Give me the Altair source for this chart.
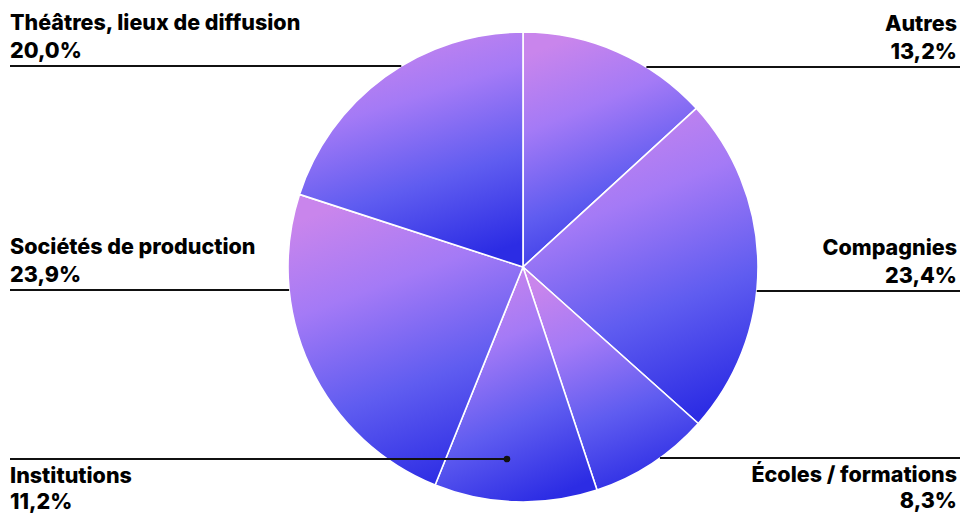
import altair as alt
import pandas as pd
import numpy as np

# ---- data ----
categories = ["Autres", "Compagnies", "Écoles / formations", "Institutions",
              "Sociétés de production", "Théâtres, lieux de diffusion"]
values = [13.2, 23.4, 8.3, 11.2, 23.9, 20.0]
pct_labels = ["13,2%", "23,4%", "8,3%", "11,2%", "23,9%", "20,0%"]

# ---- layout (annotation placement) ----
W, H = 963, 513
CX, CY, R = 523, 267, 235
label_side = ["right", "right", "right", "left", "left", "left"]
label_line_y = [67, 291, 458, 459, 290, 66]
label_below = [False, False, True, True, False, False]
label_dot = [False, False, False, True, False, False]
DOT_X = 507
LEFT_X, RIGHT_X = 10, 957

pie_df = pd.DataFrame({"cat": categories, "val": values, "idx": range(len(values))})

rows = []
for c, p, side, ly, below, dot in zip(categories, pct_labels, label_side,
                                      label_line_y, label_below, label_dot):
    edge = np.sqrt(max(R**2 - (ly - CY) ** 2, 0))
    if side == "left":
        x0 = LEFT_X
        x1 = DOT_X if dot else CX - edge
        tx = LEFT_X
    else:
        x0 = CX + edge
        x1 = 960
        tx = RIGHT_X
    ny = ly + 24 if below else ly - 36
    py = ly + 50 if below else ly - 8
    rows.append(dict(cat=c, pct=p, side=side, x0=x0, x1=x1, ly=ly, tx=tx,
                     ny=ny, py=py, dot=dot, dx=x1))
ann = pd.DataFrame(rows)

grad = alt.LinearGradient(
    gradient="linear",
    stops=[alt.GradientStop(color="#c985ec", offset=0),
           alt.GradientStop(color="#a47af6", offset=0.3),
           alt.GradientStop(color="#5f5cf0", offset=0.65),
           alt.GradientStop(color="#2c2ce4", offset=1)],
    x1=0.35, y1=0, x2=0.65, y2=1,
)

pie = alt.Chart(pie_df).mark_arc(
    outerRadius=R, fill=grad, stroke="white", strokeWidth=1.6
).encode(
    theta=alt.Theta("val:Q", stack=True),
    order=alt.Order("idx:Q", sort="ascending"),
    x=alt.value(CX), y=alt.value(CY),
)

xs = alt.Scale(domain=[0, W], nice=False, zero=False)
ys = alt.Scale(domain=[0, H], nice=False, zero=False, reverse=True)

base = alt.Chart(ann)
rules = base.mark_rule(color="#111111", strokeWidth=2).encode(
    x=alt.X("x0:Q", scale=xs, axis=None),
    x2="x1:Q",
    y=alt.Y("ly:Q", scale=ys, axis=None),
)
dots = base.transform_filter("datum.dot").mark_point(
    filled=True, color="#111111", size=45, opacity=1
).encode(
    x=alt.X("dx:Q", scale=xs, axis=None),
    y=alt.Y("ly:Q", scale=ys, axis=None),
)

def texts(field, yfield):
    out = []
    for side, align in [("left", "left"), ("right", "right")]:
        out.append(
            base.transform_filter(f"datum.side == '{side}'").mark_text(
                align=align, baseline="alphabetic", font="Inter",
                fontWeight=800, fontSize=21.5, color="#000000"
            ).encode(
                x=alt.X("tx:Q", scale=xs, axis=None),
                y=alt.Y(f"{yfield}:Q", scale=ys, axis=None),
                text=f"{field}:N",
            )
        )
    return out

layers = [pie, rules, dots] + texts("cat", "ny") + texts("pct", "py")

chart = alt.layer(*layers).properties(
    width=W, height=H, autosize=alt.AutoSizeParams(type="none"), padding=0,
    background="white",
).configure_view(stroke=None)

chart.save("out.html", embed_options={"renderer": "svg", "actions": False})
